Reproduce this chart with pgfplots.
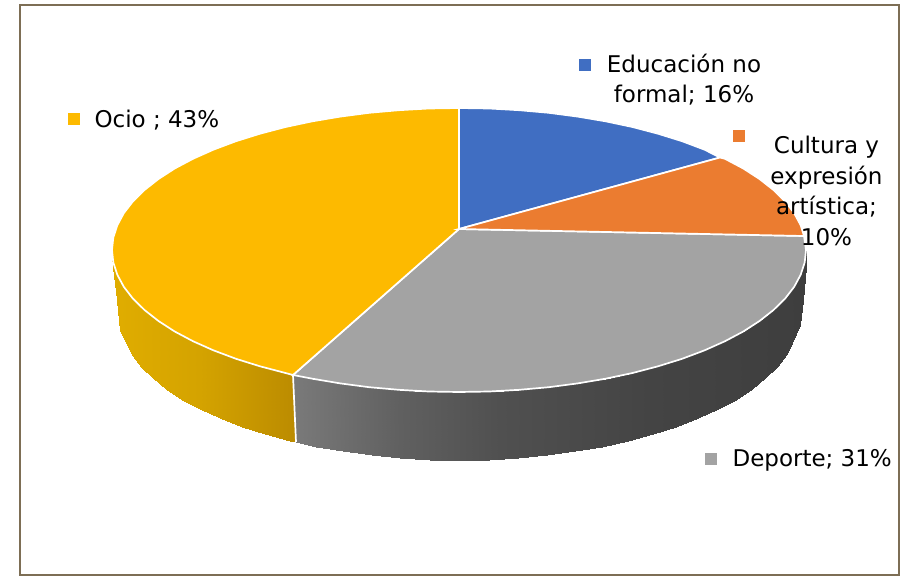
\documentclass[border=0pt]{standalone}
\usepackage{fontspec}
\setmainfont{DejaVu Sans}
\usepackage{pgfplots}
\pgfplotsset{compat=1.18}

\definecolor{azul}{RGB}{64,110,194}
\definecolor{naranja}{RGB}{235,124,48}
\definecolor{gris}{RGB}{163,163,163}
\definecolor{amarillo}{RGB}{253,186,0}
\definecolor{marco}{RGB}{125,110,85}
\definecolor{texto}{RGB}{30,30,30}

% wall shading, positions are picture x values (point meta=x)
\pgfplotsset{
  colormap={paredocio}{rgb255(112pt)=(224,173,0) rgb255(200pt)=(212,163,0) rgb255(293pt)=(188,140,0) rgb255(806pt)=(188,140,0)},
  colormap={pareddeporte}{rgb255(112pt)=(122,122,122) rgb255(293pt)=(122,122,122) rgb255(400pt)=(96,96,96) rgb255(500pt)=(80,80,80) rgb255(650pt)=(68,68,68) rgb255(806pt)=(62,62,62)},
}

\begin{document}
\begin{tikzpicture}
\begin{axis}[
    scale only axis,
    width=908pt, height=576pt,
    xmin=0, xmax=908, ymin=0, ymax=576,
    y dir=reverse,
    hide axis,
    point meta min=112, point meta max=806,
    every node/.append style={text=texto, inner sep=0pt},
]
% page
\addplot[fill=white, draw=none] coordinates {(0,0) (908,0) (908,576) (0,576)} --cycle;

% side walls
\addplot[surf, shader=interp, colormap name=paredocio, mesh/cols=2, point meta=x] table {
x y
112 250
113 268
112.5 256
117 300
113.3 262.4
120.5 330.4
117.3 274.7
126.1 342.7
123.8 286.8
132.5 354.8
132.9 298.6
141.4 366.6
144.5 310
152.7 378
158.5 321
166.3 389
174.7 331.5
182.1 399.5
193.2 341.3
200.1 409.3
213.6 350.4
220 418.4
236 358.8
241.7 426.8
260 366.3
265.1 434.3
285.5 373
290 441
293 375
296 442
};
\addplot[surf, shader=interp, colormap name=pareddeporte, mesh/cols=2, point meta=x] table {
x y
293 375
296 442
312.4 378.7
316.2 446.7
340.3 383.4
343.4 451.4
369.2 387.2
371.5 455.2
398.7 389.8
400.3 457.8
428.7 391.5
429.5 459.5
459 392
459 460
489.3 391.5
488.5 459.5
519.3 389.8
517.7 457.8
548.8 387.2
546.5 455.2
577.7 383.4
574.6 451.4
605.6 378.7
601.8 446.7
632.5 373
628 441
658 366.3
652.9 434.3
682.1 358.8
676.3 426.8
704.4 350.4
698 418.4
724.8 341.3
717.9 409.3
743.3 331.5
735.9 399.5
759.5 321
751.7 389
773.5 310
765.3 378
785.1 298.6
776.6 366.6
794.2 286.8
785.5 354.8
800.7 274.7
791.9 342.7
804.7 262.4
799.5 325
805.5 256
803 300
806 250
806 267
};
\addplot[white, line width=1.7pt] coordinates {(293,375) (296,442)};

% top faces
\addplot[fill=gris, draw=white, line width=1.7pt] coordinates {
(459,229) (804,236) (806,250) (804.7,262.4) (800.7,274.7) (794.2,286.8) (785.1,298.6)
(773.5,310) (759.5,321) (743.3,331.5) (724.8,341.3) (704.4,350.4) (682.1,358.8)
(658,366.3) (632.5,373) (605.6,378.7) (577.7,383.4) (548.8,387.2) (519.3,389.8)
(489.3,391.5) (459,392) (428.7,391.5) (398.7,389.8) (369.2,387.2) (340.3,383.4)
(312.4,378.7) (293,375)} --cycle;
\addplot[fill=amarillo, draw=white, line width=1.7pt] coordinates {
(459,229) (293,375) (285.5,373) (260,366.3) (236,358.8) (213.6,350.4) (193.2,341.3)
(174.7,331.5) (158.5,321) (144.5,310) (132.9,298.6) (123.8,286.8) (117.3,274.7)
(113.3,262.4) (112,250) (113.3,237.6) (117.3,225.3) (123.8,213.2) (132.9,201.4)
(144.5,190) (158.5,179) (174.7,168.5) (193.2,158.7) (213.6,149.6) (236,141.2)
(260,133.7) (285.5,127) (312.4,121.3) (340.3,116.6) (369.2,112.8) (398.7,110.2)
(428.7,108.5) (459,108)} --cycle;
\addplot[fill=azul, draw=white, line width=1.7pt] coordinates {
(459,229) (459,108) (489.3,108.5) (519.3,110.2) (548.8,112.8) (577.7,116.6)
(605.6,121.3) (632.5,127) (658,133.7) (682.1,141.2) (704.4,149.6) (720,157.5)} --cycle;
\addplot[fill=naranja, draw=white, line width=1.7pt] coordinates {
(459,229) (720,157.5) (724.8,158.7) (743.3,168.5) (759.5,179) (773.5,190)
(785.1,201.4) (794.2,213.2) (800.7,225.3) (804,236)} --cycle;

% label keys
\addplot[only marks, mark=square*, mark size=5.5pt, mark options={draw=azul, fill=azul, line width=0pt}] coordinates {(585,65)};
\addplot[only marks, mark=square*, mark size=5.5pt, mark options={draw=naranja, fill=naranja, line width=0pt}] coordinates {(739,136)};
\addplot[only marks, mark=square*, mark size=5.5pt, mark options={draw=gris, fill=gris, line width=0pt}] coordinates {(711,459)};
\addplot[only marks, mark=square*, mark size=5.5pt, mark options={draw=amarillo, fill=amarillo, line width=0pt}] coordinates {(74,119)};

% labels
\node[align=center, font=\fontsize{23}{30}\selectfont] at (axis cs:684,80) {Educación no\\formal; 16\%};
\node[align=center, font=\fontsize{23}{30.5}\selectfont] at (axis cs:826.5,191) {Cultura y\\expresión\\artística;\\10\%};
\node[anchor=west, font=\fontsize{23}{30}\selectfont] at (axis cs:91,120) {Ocio ; 43\%};
\node[anchor=west, font=\fontsize{23}{30}\selectfont] at (axis cs:729,460) {Deporte; 31\%};

% frame
\addplot[draw=marco, line width=2.6pt] coordinates {(20,5) (899,5) (899,575) (20,575)} --cycle;
\end{axis}
\end{tikzpicture}
\end{document}
